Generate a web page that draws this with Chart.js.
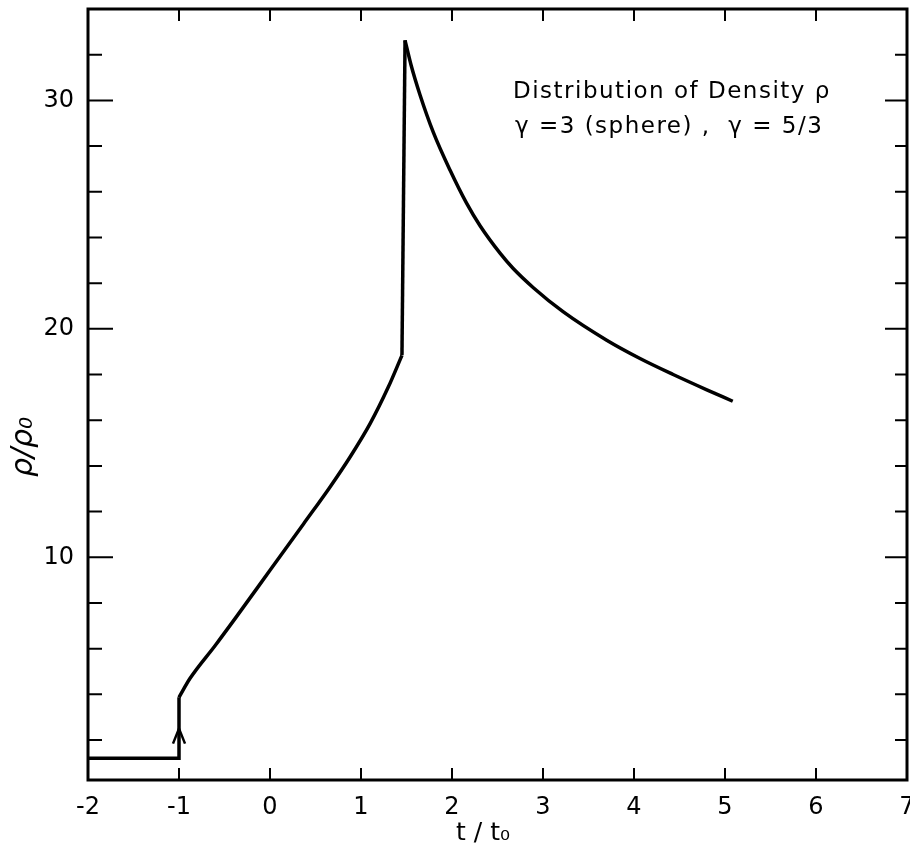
<!DOCTYPE html>
<html>
<head>
<meta charset="utf-8">
<script src="https://cdn.jsdelivr.net/npm/chart.js@4.4.1/dist/chart.umd.min.js"></script>
<style>
  html, body { margin: 0; padding: 0; background: #fff; }
  #wrap { width: 910px; height: 851px; position: relative; }
</style>
</head>
<body>
<div id="wrap"><canvas id="densityChart"></canvas></div>
<script>
// t / t0 and rho / rho0
const tValues = [-2, -1, -1, -0.88, -0.6, -0.37, 0, 0.37, 0.66, 0.88, 1.1, 1.3, 1.45,
                 1.484, 1.55, 1.648, 1.795, 1.978, 2.16, 2.31, 2.53, 2.67, 2.894, 3.22, 3.70, 4.066, 4.43, 4.80, 5.085];
const rhoValues = [1.2, 1.2, 3.87, 4.69, 6.15, 7.39, 9.43, 11.47, 13.08, 14.39, 15.85, 17.45, 18.84,
                   32.63, 31.55, 30.25, 28.6, 26.95, 25.5, 24.5, 23.3, 22.65, 21.8, 20.75, 19.5, 18.7, 18.0, 17.33, 16.83];
// index ranges: straight pieces and smooth pieces of the same curve
const pieces = [[0, 2, false], [2, 12, true], [12, 13, false], [13, 28, true]];

const xTicks = [-2, -1, 0, 1, 2, 3, 4, 5, 6, 7];
const yMajorTicks = [10, 20, 30];
const yMinorTicks = [2, 4, 6, 8, 12, 14, 16, 18, 22, 24, 26, 28, 32];
const arrowAt = [-1, 2.5];
const noteLines = ['Distribution of Density ρ', 'γ =3 (sphere) ,  γ = 5/3'];

const FONT = '"DejaVu Sans", sans-serif';

const frameTicks = {
    id: 'frameTicks',
    afterDraw(chart) {
        const { ctx, chartArea: a, scales: { x, y } } = chart;
        ctx.save();
        ctx.strokeStyle = '#000';
        ctx.lineWidth = 3;
        ctx.strokeRect(a.left, a.top, a.right - a.left, a.bottom - a.top);

        // inward ticks
        ctx.lineWidth = 2;
        ctx.beginPath();
        xTicks.forEach(v => {
            const px = x.getPixelForValue(v);
            ctx.moveTo(px, a.bottom); ctx.lineTo(px, a.bottom - 12);
            ctx.moveTo(px, a.top); ctx.lineTo(px, a.top + 12);
        });
        yMajorTicks.forEach(v => {
            const py = y.getPixelForValue(v);
            ctx.moveTo(a.left, py); ctx.lineTo(a.left + 25, py);
            ctx.moveTo(a.right, py); ctx.lineTo(a.right - 22, py);
        });
        yMinorTicks.forEach(v => {
            const py = y.getPixelForValue(v);
            ctx.moveTo(a.left, py); ctx.lineTo(a.left + 14, py);
            ctx.moveTo(a.right, py); ctx.lineTo(a.right - 12, py);
        });
        ctx.stroke();

        // arrow on the jump at t = -t0
        const ax = x.getPixelForValue(arrowAt[0]);
        const ay = y.getPixelForValue(arrowAt[1]);
        ctx.lineWidth = 2.5;
        ctx.beginPath();
        ctx.moveTo(ax - 6, ay + 15);
        ctx.lineTo(ax, ay);
        ctx.lineTo(ax + 6, ay + 15);
        ctx.stroke();

        // note text
        ctx.fillStyle = '#000';
        ctx.font = '23px ' + FONT;
        ctx.letterSpacing = '1.5px';
        ctx.textBaseline = 'alphabetic';
        ctx.textAlign = 'left';
        ctx.fillText(noteLines[0], 513, 98);
        ctx.fillText(noteLines[1], 515, 133);
        ctx.letterSpacing = '0px';

        // axis titles
        ctx.font = '25px ' + FONT;
        ctx.textAlign = 'center';
        ctx.textBaseline = 'middle';
        ctx.fillText('t / t₀', 483, 833);

        ctx.translate(24, 447);
        ctx.rotate(-Math.PI / 2);
        ctx.font = 'italic 30px ' + FONT;
        ctx.fillText('ρ/ρ₀', 0, 0);
        ctx.restore();
    }
};

const datasets = pieces.map(([from, to, smooth]) => ({
    data: tValues.slice(from, to + 1).map((t, i) => ({ x: t, y: rhoValues[from + i] })),
    showLine: true,
    borderColor: '#000',
    borderWidth: 3.5,
    pointRadius: 0,
    cubicInterpolationMode: smooth ? 'monotone' : 'default',
    tension: 0,
    fill: false
}));

const ctx = document.getElementById('densityChart').getContext('2d');
new Chart(ctx, {
    type: 'scatter',
    data: { datasets },
    options: {
        responsive: true,
        maintainAspectRatio: false,
        animation: false,
        layout: { padding: { top: 9, right: 3, left: 0, bottom: 0 } },
        plugins: {
            legend: { display: false },
            tooltip: { enabled: false }
        },
        scales: {
            x: {
                type: 'linear',
                min: -2,
                max: 7,
                afterBuildTicks: s => { s.ticks = xTicks.map(v => ({ value: v })); },
                afterFit: s => { s.height = 71; s.paddingLeft = 0; s.paddingRight = 0; },
                grid: { display: false },
                border: { display: false },
                ticks: {
                    color: '#000',
                    padding: 5,
                    maxRotation: 0,
                    font: { family: FONT, size: 24 },
                    callback: v => String(v)
                }
            },
            y: {
                type: 'linear',
                min: 0.25,
                max: 34,
                afterBuildTicks: s => { s.ticks = yMajorTicks.map(v => ({ value: v })); },
                afterFit: s => { s.width = 88; s.paddingTop = 0; s.paddingBottom = 0; },
                grid: { display: false },
                border: { display: false },
                ticks: {
                    color: '#000',
                    padding: 6,
                    font: { family: FONT, size: 24 }
                }
            }
        }
    },
    plugins: [frameTicks]
});
</script>
</body>
</html>
